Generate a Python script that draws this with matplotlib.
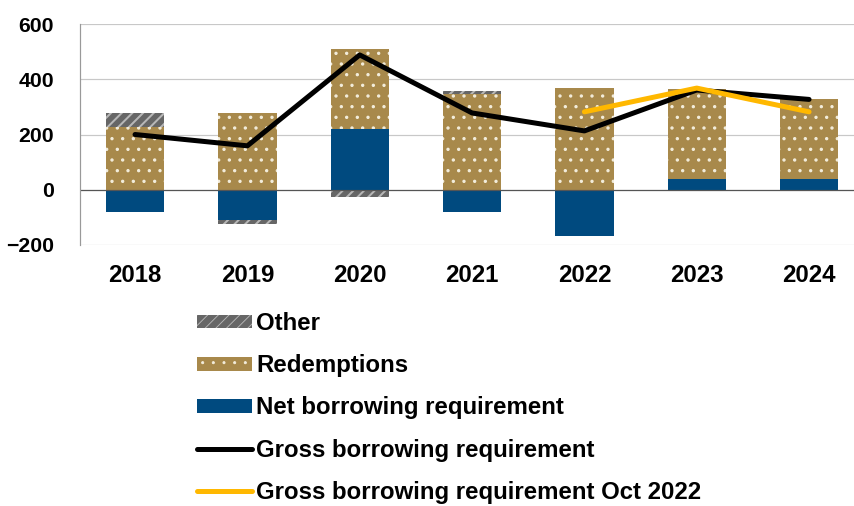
import matplotlib
matplotlib.use("Agg")
import matplotlib.pyplot as plt
import numpy as np

DPI = 64
def P(px):
    return px * 72.0 / DPI

plt.rcParams['font.family'] = ['Liberation Sans', 'DejaVu Sans']
plt.rcParams['font.weight'] = 'bold'

years = ["2018", "2019", "2020", "2021", "2022", "2023", "2024"]
net_borrowing = [-80, -108, 220, -80, -166, 40, 38]
redemptions = [228, 278, 290, 347, 367, 325, 292]
other = [50, -15, -25, 11, 2, -3, -2]
gross = [200, 159, 488, 278, 213, 361, 327]
gross_oct22_years = ["2022", "2023", "2024"]
gross_oct22 = [282, 368, 282]

fig = plt.figure(figsize=(854 / DPI, 506 / DPI), dpi=DPI)
ax = fig.add_axes([80/854, 1-245/506, 1-80/854, (245-24)/506])

x = np.arange(len(years))
w = 0.52
pos = np.zeros(len(years))
neg = np.zeros(len(years))

def stack(vals):
    vals = np.array(vals, dtype=float)
    bottoms = np.where(vals >= 0, pos, neg)
    pos[:] = pos + np.clip(vals, 0, None)
    neg[:] = neg + np.clip(vals, None, 0)
    return bottoms

b_net = stack(net_borrowing)
b_red = stack(redemptions)
b_oth = stack(other)

h_net = ax.bar(x, net_borrowing, w, bottom=b_net, color='#004A7F', linewidth=0, zorder=2)
with plt.rc_context({'hatch.linewidth': P(1.2)}):
    h_red = ax.bar(x, redemptions, w, bottom=b_red, facecolor='#A8894B', edgecolor='#F3EDDC',
                   linewidth=0, hatch='.', zorder=2)
with plt.rc_context({'hatch.linewidth': P(2.0)}):
    h_oth = ax.bar(x, other, w, bottom=b_oth, facecolor='#666666', edgecolor='#B8B8B8',
                   linewidth=0, hatch='//', zorder=2)
for p in h_red.patches:
    if hasattr(p, 'set_hatch_linewidth'):
        p.set_hatch_linewidth(P(1.2))
for p in h_oth.patches:
    if hasattr(p, 'set_hatch_linewidth'):
        p.set_hatch_linewidth(P(2.0))

l_gross, = ax.plot(x, gross, color='black', lw=P(5), zorder=3, solid_capstyle='round')
xo = [years.index(y) for y in gross_oct22_years]
l_oct, = ax.plot(xo, gross_oct22, color='#FFB800', lw=P(5), zorder=4, solid_capstyle='round')

ax.set_ylim(-200, 600)
ax.set_yticks([-200, 0, 200, 400, 600])
ax.set_xlim(-0.49, 6.4)
ax.set_xticks(x)
ax.set_xticklabels(years)
ax.grid(axis='y', color='#C8C8C8', lw=P(1.2), zorder=0)
ax.axhline(0, color='#555555', lw=P(1.2), zorder=2.5)
for s in ['top', 'right']:
    ax.spines[s].set_visible(False)
ax.spines['left'].set_color('#999999')
ax.spines['left'].set_linewidth(P(1.2))
ax.spines['bottom'].set_visible(False)
ax.tick_params(axis='both', length=0)
ax.tick_params(axis='y', pad=P(26), labelsize=P(21.3))
ax.tick_params(axis='x', pad=P(18.5), labelsize=P(24))
for t in ax.get_xticklabels() + ax.get_yticklabels():
    t.set_fontweight('bold')

fig.legend([h_oth, h_red, h_net, l_gross, l_oct],
           ["Other", "Redemptions", "Net borrowing requirement",
            "Gross borrowing requirement", "Gross borrowing requirement Oct 2022"],
           loc='upper left', bbox_to_anchor=(197/854, 1-312/506), frameon=False,
           fontsize=P(24), handlelength=2.3, handleheight=0.5, handletextpad=0.17,
           labelspacing=0.8, borderpad=0, borderaxespad=0)

fig.savefig("out.png", dpi=DPI)
